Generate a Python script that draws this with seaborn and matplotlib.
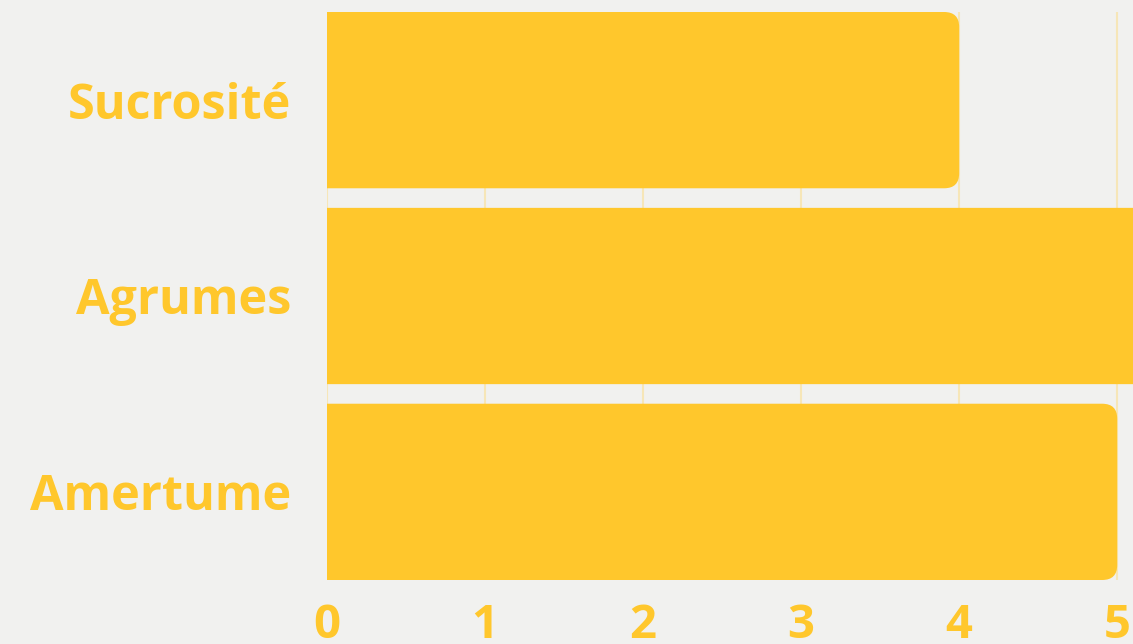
import matplotlib
matplotlib.use('Agg')
import matplotlib.pyplot as plt
import seaborn as sns
import pandas as pd
from matplotlib.patches import FancyBboxPatch

# données
categories = ['Sucrosité', 'Agrumes', 'Amertume']
valeurs = [4, 6, 5]
graduations = [0, 1, 2, 3, 4, 5]

JAUNE = '#FFC72C'
FOND = '#F1F1EF'
GRILLE = '#F6E6B8'

sns.set_theme(style='white')
plt.rcParams['font.family'] = ['Open Sans', 'DejaVu Sans']

df = pd.DataFrame({'cat': categories, 'val': valeurs})

fig = plt.figure(figsize=(11.33, 6.44), dpi=100, facecolor=FOND)
ax = fig.add_axes([327 / 1133, 64 / 644, 806 / 1133, 568 / 644])
ax.set_facecolor(FOND)

sns.barplot(data=df, x='val', y='cat', color=JAUNE, saturation=1,
            width=0.9, ax=ax, orient='h')

ax.set_xlim(0, 5.1)
ax.set_ylim(2.45, -0.45)

# coins arrondis à droite ; les coins gauches tombent hors des axes (rognés)
px_x = 5.1 / 806
px_y = 2.9 / 568
r = 15 * px_x
aspect = px_y / px_x
for p in list(ax.patches):
    x0, y0 = p.get_x(), p.get_y()
    w, h = p.get_width(), p.get_height()
    p.set_visible(False)
    arrondi = FancyBboxPatch((x0 - 3 * r, y0), w + 3 * r, h,
                             boxstyle=f'round,pad=0,rounding_size={r}',
                             mutation_aspect=aspect, facecolor=JAUNE,
                             edgecolor='none', linewidth=0,
                             zorder=p.get_zorder())
    ax.add_patch(arrondi)

ax.set_xticks(graduations)
ax.grid(axis='x', color=GRILLE, linewidth=1.5)
ax.set_axisbelow(True)
sns.despine(ax=ax, left=True, bottom=True, top=True, right=True)

ax.set_xlabel('')
ax.set_ylabel('')
ax.tick_params(axis='x', length=0, pad=16, labelsize=34, labelcolor=JAUNE)
ax.tick_params(axis='y', length=0, pad=26, labelsize=35, labelcolor=JAUNE)
for lab in ax.get_xticklabels() + ax.get_yticklabels():
    lab.set_fontweight('bold')

plt.savefig('out.png', dpi=100, facecolor=FOND)
plt.close()
